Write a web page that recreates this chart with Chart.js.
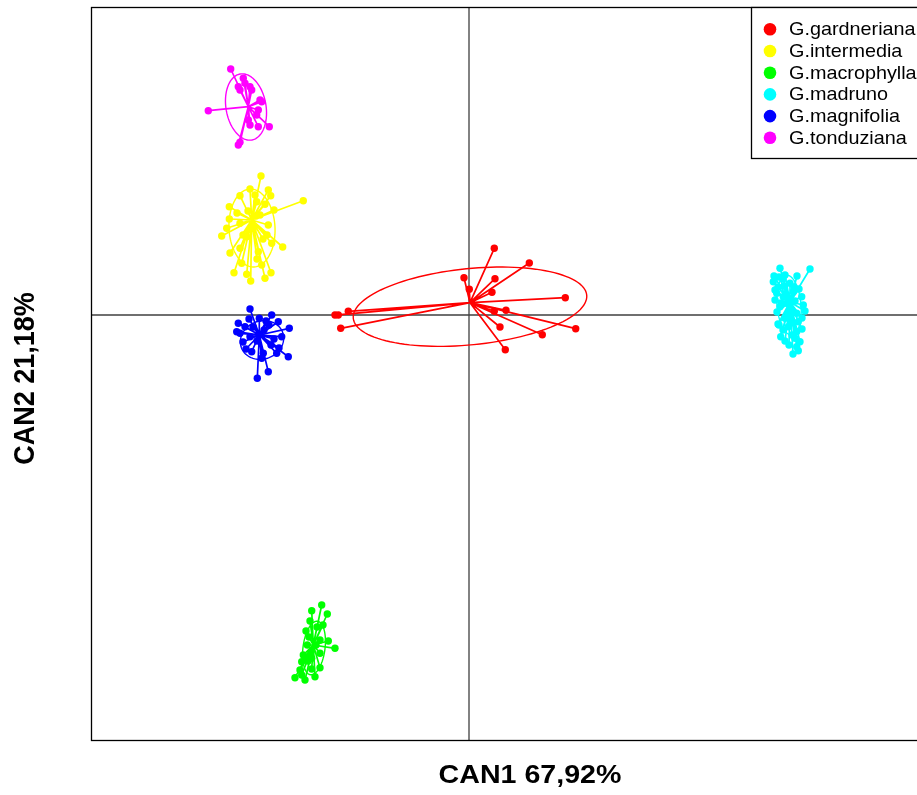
<!DOCTYPE html>
<html>
<head>
<meta charset="utf-8">
<script src="https://cdn.jsdelivr.net/npm/chart.js@4/dist/chart.umd.min.js"></script>
<style>
html,body{margin:0;padding:0;overflow:hidden;background:#fff;}
#c{position:absolute;left:0;top:0;}
</style>
</head>
<body>
<canvas id="c" width="1000" height="795"></canvas>
<script>
// ---- data (canonical scores) ----
const speciesNames = ["G.gardneriana","G.intermedia","G.macrophylla","G.madruno","G.magnifolia","G.tonduziana"];
const speciesColors = ["#FF0000","#FFFF00","#00FF00","#00FFFF","#0000FF","#FF00FF"];

const gardnerianaX = [2.53,6.03,-0.5,2.6,0.03,2.3,9.63,3.7,2.53,-12.07,-13.4,-13.07,-12.83,3.1,10.67,7.33,3.63];
const gardnerianaY = [6.67,5.2,3.73,3.63,2.57,2.27,1.73,0.47,0.37,0.37,0,0,-1.33,-1.2,-1.37,-1.97,-3.47];

const intermediaX = [-20.8,-20.07,-22.9,-19.83,-16.57,-23.97,-20.4,-21.23,-20.9,-23.97,-20.07,-24.23,-22.9,-24.73,-19.73,-18.63,-22.23,-22.9,-22.73,-20.73,-23.5,-22.23,-21.83,-20.4,-19.8,-21.57,-21.07,-21.3,-22.1,-20.6,-23.2,-21.9,-20.2,-22.6,-21.2,-23.9,-19.5,-21.4];
const intermediaY = [13.9,12.5,11.93,11.93,11.43,10.83,11.07,11.33,10.0,9.6,9.0,8.67,9.17,7.9,7.17,6.8,7.83,6.67,5.17,5.0,4.23,4.07,3.4,3.67,4.23,8.67,6.33,9.9,10.4,7.6,10.2,12.6,8.0,8.0,5.6,6.2,10.5,12.0];

const macrophyllaX = [-14.73,-15.73,-14.17,-16.3,-14.9,-14.07,-13.4,-16.17,-16.57,-16.73,-15.73,-14.9,-16.9,-15.73,-14.9,-16.73,-17.4,-15.4,-15.2,-16.0,-15.9,-14.6,-16.1,-15.3,-16.4];
const macrophyllaY = [-29.0,-29.57,-29.9,-31.6,-32.5,-32.6,-33.33,-33.0,-34.0,-34.67,-34.33,-33.83,-35.5,-35.4,-35.27,-36.0,-36.27,-36.17,-31.2,-32.2,-30.6,-31.0,-34.6,-33.0,-36.5];

const madrunoX = [31.1,34.1,31.6,30.43,32.1,30.6,32.43,31.43,33.27,30.6,33.43,31.1,32.1,32.77,31.6,32.93,31.93,31.17,32.77,32.6,33.1,32.77,32.93,30.77,31.77,31.0,32.5,31.9,30.9,33.3,32.3,31.5,30.5,31.4,32.8,30.9,33.0,31.2,32.6,30.8,31.4,32.2,31.6,32.0,33.3,32.4,31.0,33.6];
const madrunoY = [4.67,4.6,4.0,3.33,3.17,2.5,2.33,1.83,1.83,1.5,1.0,0.83,0.5,0.17,-0.33,-0.67,-1.17,-2.17,-1.67,-2.33,-2.67,-3.17,-3.57,2.17,1.17,3.8,2.8,0.0,-0.9,-0.3,-2.0,2.9,3.9,3.6,3.9,2.8,2.6,1.2,1.4,0.3,-1.5,-0.8,-2.6,-3.0,-1.4,-3.9,-1.0,0.4];

const magnifoliaX = [-21.9,-19.73,-20.97,-23.07,-19.07,-23.23,-17.97,-18.73,-22.4,-21.9,-21.73,-20.57,-19.23,-18.07,-20.73,-20.07,-21.17,-22.9,-20.5,-21.2,-19.8,-20.0,-22.0,-19.5,-22.6,-20.3,-19.0,-21.6,-22.3];
const magnifoliaY = [0.6,0,-0.33,-0.83,-0.67,-1.67,-1.33,-2.17,-1.17,-2.17,-3.67,-3.83,-3.83,-4.17,-4.33,-5.67,-6.33,-1.83,-1.5,-2.6,-3.0,-1.0,-0.4,-2.4,-2.7,-0.6,-3.3,-1.2,-3.4];

const tonduzianaX = [-23.83,-22.57,-22.4,-23.07,-21.9,-22.9,-21.73,-26.07,-20.9,-20.73,-21.07,-21.23,-21.9,-21.07,-19.97,-22.07,-23.07,-22.9];
const tonduzianaY = [24.6,23.67,23.17,22.83,22.83,22.5,22.5,20.43,21.5,21.33,20.5,20.0,19.0,18.83,18.83,19.5,17.0,17.27];

// group centroids (spoke origins)
const centerX = [0.1,-21.73,-15.57,32.1,-20.97,-22.07];
const centerY = [1.23,9.5,-33.0,1.3,-2.0,20.83];

// ellipses: centre, semi-axes, rotation (deg)
const ellCX = [0.1,-21.7,-15.5,32.0,-20.7,-22.3];
const ellCY = [0.83,8.7,-33.3,1.0,-2.5,20.8];
const ellA  = [11.73,3.9,2.7,3.0,2.2,3.35];
const ellB  = [3.81,2.3,1.1,1.2,1.9,2.0];
const ellAngle = [5.7,93,82.6,95,20,100];

const axisLabelX = "CAN1 67,92%";
const axisLabelY = "CAN2 21,18%";

// ---- build datasets ----
const xsAll = [gardnerianaX,intermediaX,macrophyllaX,madrunoX,magnifoliaX,tonduzianaX];
const ysAll = [gardnerianaY,intermediaY,macrophyllaY,madrunoY,magnifoliaY,tonduzianaY];
const datasets = speciesNames.map((name,i)=>({
  label: name,
  data: xsAll[i].map((x,j)=>({x:x,y:ysAll[i][j]})),
  backgroundColor: speciesColors[i],
  borderColor: speciesColors[i],
  pointRadius: 3.7,
  pointBorderWidth: 0,
  pointHoverRadius: 3.7
}));

const framePlugin = {
  id: 'frame',
  beforeDatasetsDraw(chart){
    const ctx = chart.ctx, a = chart.chartArea, sx = chart.scales.x, sy = chart.scales.y;
    ctx.save();
    // cross lines
    ctx.strokeStyle = '#404040';
    ctx.lineWidth = 1.3;
    const x0 = sx.getPixelForValue(0), y0 = sy.getPixelForValue(0);
    ctx.beginPath();
    ctx.moveTo(x0, a.top); ctx.lineTo(x0, a.bottom);
    ctx.moveTo(a.left, y0); ctx.lineTo(a.right, y0);
    ctx.stroke();
    // spokes and ellipses
    chart.data.datasets.forEach((ds,i)=>{
      const cx = sx.getPixelForValue(centerX[i]), cy = sy.getPixelForValue(centerY[i]);
      ctx.strokeStyle = speciesColors[i];
      ctx.lineWidth = 1.7;
      ctx.beginPath();
      ds.data.forEach(p=>{
        ctx.moveTo(cx,cy);
        ctx.lineTo(sx.getPixelForValue(p.x), sy.getPixelForValue(p.y));
      });
      ctx.stroke();
      const th = ellAngle[i]*Math.PI/180;
      ctx.lineWidth = 1.4;
      ctx.beginPath();
      for(let k=0;k<=120;k++){
        const t = k/120*2*Math.PI;
        const ex = ellCX[i] + ellA[i]*Math.cos(t)*Math.cos(th) - ellB[i]*Math.sin(t)*Math.sin(th);
        const ey = ellCY[i] + ellA[i]*Math.cos(t)*Math.sin(th) + ellB[i]*Math.sin(t)*Math.cos(th);
        const px = sx.getPixelForValue(ex), py = sy.getPixelForValue(ey);
        if(k===0) ctx.moveTo(px,py); else ctx.lineTo(px,py);
      }
      ctx.stroke();
    });
    ctx.restore();
  },
  afterDraw(chart){
    const ctx = chart.ctx, a = chart.chartArea;
    ctx.save();
    // plot frame
    ctx.strokeStyle = '#000';
    ctx.lineWidth = 1.3;
    ctx.strokeRect(Math.round(a.left)+0.5, Math.round(a.top)+0.5, a.right-a.left, a.bottom-a.top);
    // legend
    const lx = 751, ly = 7, lw = a.right - 751, lh = 151;
    ctx.fillStyle = '#fff';
    ctx.fillRect(lx, ly, lw, lh);
    ctx.strokeRect(lx+0.5, ly+0.5, lw, lh);
    chart.data.datasets.forEach((ds,i)=>{
      const yy = 29.3 + 21.7*i;
      ctx.fillStyle = speciesColors[i];
      ctx.beginPath(); ctx.arc(770, yy, 6.3, 0, 2*Math.PI); ctx.fill();
      ctx.save();
      ctx.translate(789, yy);
      ctx.scale(1.07,1);
      ctx.fillStyle = '#000';
      ctx.font = '18.5px "Liberation Sans", Arial, sans-serif';
      ctx.textBaseline = 'middle';
      ctx.textAlign = 'left';
      ctx.fillText(ds.label, 0, 1);
      ctx.restore();
    });
    // axis titles
    ctx.fillStyle = '#000';
    ctx.save();
    ctx.translate(530, 783);
    ctx.scale(1.1,1);
    ctx.font = 'bold 26px "Liberation Sans", Arial, sans-serif';
    ctx.textAlign = 'center';
    ctx.textBaseline = 'alphabetic';
    ctx.fillText(axisLabelX, 0, 0);
    ctx.restore();
    ctx.save();
    ctx.translate(34, 378.5);
    ctx.rotate(-Math.PI/2);
    ctx.scale(1,1.1);
    ctx.font = 'bold 27px "Liberation Sans", Arial, sans-serif';
    ctx.textAlign = 'center';
    ctx.textBaseline = 'alphabetic';
    ctx.fillText(axisLabelY, 0, 0);
    ctx.restore();
    ctx.restore();
  }
};

new Chart(document.getElementById('c'), {
  type: 'scatter',
  data: { datasets: datasets },
  options: {
    responsive: false,
    animation: false,
    devicePixelRatio: 1,
    layout: { padding: { left: 91, top: 7, right: 31, bottom: 55 } },
    plugins: { legend: { display: false }, tooltip: { enabled: false } },
    events: [],
    scales: {
      x: { type: 'linear', display: false, min: -37.8, max: 50.0 },
      y: { type: 'linear', display: false, min: -42.5, max: 30.8 }
    }
  },
  plugins: [framePlugin]
});
</script>
</body>
</html>
